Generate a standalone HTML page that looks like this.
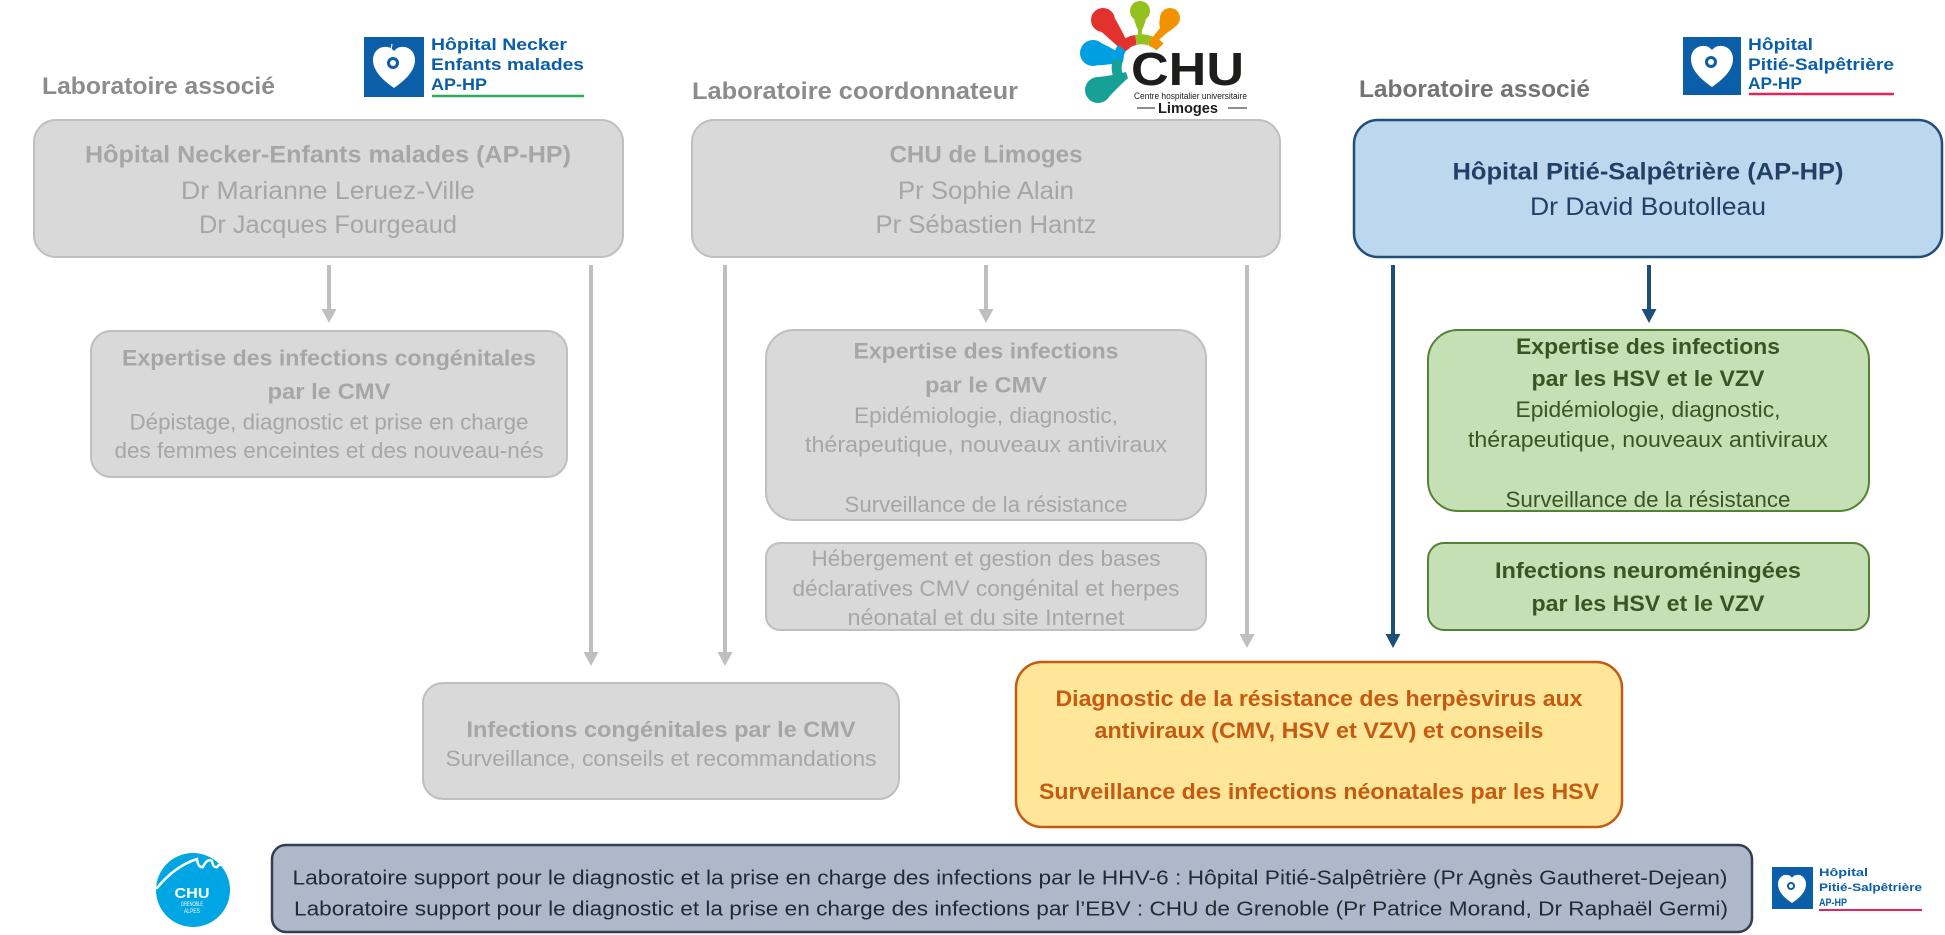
<!DOCTYPE html>
<html><head><meta charset="utf-8">
<style>
html,body{margin:0;padding:0;background:#fff;}
svg{display:block;}
text{font-family:"Liberation Sans",sans-serif;}
.b{font-weight:bold;}
.g{fill:#a6a6a6;}
</style></head>
<body>
<svg width="1945" height="935" viewBox="0 0 1945 935" xmlns="http://www.w3.org/2000/svg">
<rect width="1945" height="935" fill="#fff"/>

<!-- Headers -->
<text x="42" y="94" class="b" font-size="24" fill="#8c8c8c" textLength="233" lengthAdjust="spacingAndGlyphs">Laboratoire associé</text>
<text x="692" y="99" class="b" font-size="24" fill="#8c8c8c" textLength="326" lengthAdjust="spacingAndGlyphs">Laboratoire coordonnateur</text>
<text x="1359" y="97" class="b" font-size="24" fill="#747474" textLength="231" lengthAdjust="spacingAndGlyphs">Laboratoire associé</text>

<!-- Necker logo -->
<rect x="364" y="37" width="60" height="60" fill="#0b5ea8"/>
<path d="M394,88 C381,79 373,70 373,60 C373,51 380,46 387,47 C390,47 392,49 394,51 C396,49 398,47 401,47 C408,46 415,51 415,60 C415,70 407,79 394,88 Z" fill="#fff"/>
<circle cx="393" cy="63" r="6" fill="#0b5ea8"/>
<circle cx="393" cy="63" r="3" fill="#fff"/>
<line x1="392" y1="44" x2="390" y2="55" stroke="#fff" stroke-width="1.2"/>
<text x="431" y="50" class="b" font-size="17" fill="#0b5ea8" textLength="136" lengthAdjust="spacingAndGlyphs">Hôpital Necker</text>
<text x="431" y="70" class="b" font-size="17" fill="#0b5ea8" textLength="153" lengthAdjust="spacingAndGlyphs">Enfants malades</text>
<text x="431" y="90" class="b" font-size="17" fill="#0b5ea8" textLength="56" lengthAdjust="spacingAndGlyphs">AP-HP</text>
<line x1="432" y1="96" x2="584" y2="96" stroke="#2eab5a" stroke-width="2.5"/>

<!-- CHU Limoges logo -->
<g>
<path d="M1095,14 Q1103,5 1112,14 Q1120,26 1130,48 L1124,52 Q1104,34 1096,27 Q1089,20 1095,14 Z" fill="#e3312d"/>
<circle cx="1103" cy="20" r="12" fill="#e3312d"/>
<path d="M1134,8 Q1140,0 1146,8 Q1148,18 1142,30 L1141,42 L1138,42 L1138,30 Q1132,18 1134,8 Z" fill="#95c11f"/>
<circle cx="1140" cy="11" r="10" fill="#95c11f"/>
<path d="M1162,14 Q1170,6 1178,14 Q1182,24 1168,32 L1152,46 L1148,43 L1160,28 Q1158,20 1162,14 Z" fill="#f39200"/>
<circle cx="1170" cy="18" r="10" fill="#f39200"/>
<path d="M1082,50 Q1084,40 1095,41 Q1106,44 1124,56 L1123,62 Q1104,66 1094,65 Q1082,62 1082,50 Z" fill="#009fe3"/>
<circle cx="1093" cy="53" r="13" fill="#009fe3"/>
<path d="M1087,92 Q1086,80 1098,77 Q1110,76 1126,72 L1128,78 Q1115,90 1108,98 Q1098,106 1090,100 Z" fill="#16a096"/>
<circle cx="1098" cy="90" r="13" fill="#16a096"/>
<path d="M1122,82 A22,22 0 0 1 1118,60" fill="none" stroke="#16a096" stroke-width="10"/>
<path d="M1118,60 A22,22 0 0 1 1122,48" fill="none" stroke="#009fe3" stroke-width="10"/>
<path d="M1122,48 A22,22 0 0 1 1136,40" fill="none" stroke="#e3312d" stroke-width="10"/>
<path d="M1136,40 A22,22 0 0 1 1150,41" fill="none" stroke="#95c11f" stroke-width="10"/>
<path d="M1150,41 A22,22 0 0 1 1160,47" fill="none" stroke="#f39200" stroke-width="10"/>
<text x="1131" y="85" class="b" font-size="46" fill="#1d1d1b" textLength="113" lengthAdjust="spacingAndGlyphs">CHU</text>
<text x="1134" y="99" font-size="9" fill="#1d1d1b" textLength="113" lengthAdjust="spacingAndGlyphs">Centre hospitalier universitaire</text>
<text x="1158" y="113" class="b" font-size="15" fill="#1d1d1b" textLength="60" lengthAdjust="spacingAndGlyphs">Limoges</text>
<line x1="1137" y1="108" x2="1155" y2="108" stroke="#1d1d1b" stroke-width="1"/>
<line x1="1228" y1="108" x2="1247" y2="108" stroke="#1d1d1b" stroke-width="1"/>
</g>

<!-- Pitié logo top -->
<rect x="1683" y="37" width="58" height="58" fill="#0b5ea8"/>
<path d="M1712,87 C1699,78 1691,69 1691,59 C1691,50 1698,45 1705,46 C1708,46 1710,48 1712,50 C1714,48 1716,46 1719,46 C1726,45 1733,50 1733,59 C1733,69 1725,78 1712,87 Z" fill="#fff"/>
<circle cx="1711" cy="62" r="6" fill="#0b5ea8"/>
<circle cx="1711" cy="62" r="3" fill="#fff"/>
<text x="1748" y="50" class="b" font-size="17" fill="#0b5ea8" textLength="65" lengthAdjust="spacingAndGlyphs">Hôpital</text>
<text x="1748" y="70" class="b" font-size="17" fill="#0b5ea8" textLength="146" lengthAdjust="spacingAndGlyphs">Pitié-Salpêtrière</text>
<text x="1748" y="89" class="b" font-size="17" fill="#0b5ea8" textLength="54" lengthAdjust="spacingAndGlyphs">AP-HP</text>
<line x1="1749" y1="94" x2="1894" y2="94" stroke="#e2265b" stroke-width="2.5"/>

<!-- Top boxes -->
<rect x="34" y="120" width="589" height="137" rx="22" fill="#d9d9d9" stroke="#bfbfbf" stroke-width="2"/>
<text x="328" y="162.5" text-anchor="middle" class="b g" font-size="24" textLength="486" lengthAdjust="spacingAndGlyphs">Hôpital Necker-Enfants malades (AP-HP)</text>
<text x="328" y="199" text-anchor="middle" class="g" font-size="25" textLength="294" lengthAdjust="spacingAndGlyphs">Dr Marianne Leruez-Ville</text>
<text x="328" y="233" text-anchor="middle" class="g" font-size="25" textLength="258" lengthAdjust="spacingAndGlyphs">Dr Jacques Fourgeaud</text>

<rect x="692" y="120" width="588" height="137" rx="22" fill="#d9d9d9" stroke="#bfbfbf" stroke-width="2"/>
<text x="986" y="162.5" text-anchor="middle" class="b g" font-size="24" textLength="193" lengthAdjust="spacingAndGlyphs">CHU de Limoges</text>
<text x="986" y="199" text-anchor="middle" class="g" font-size="25" textLength="176" lengthAdjust="spacingAndGlyphs">Pr Sophie Alain</text>
<text x="986" y="233" text-anchor="middle" class="g" font-size="25" textLength="221" lengthAdjust="spacingAndGlyphs">Pr Sébastien Hantz</text>

<rect x="1354" y="120" width="588" height="137" rx="24" fill="#bdd7ee" stroke="#1f4e79" stroke-width="2.5"/>
<text x="1648" y="179.5" text-anchor="middle" class="b" font-size="24" fill="#223f66" textLength="391" lengthAdjust="spacingAndGlyphs">Hôpital Pitié-Salpêtrière (AP-HP)</text>
<text x="1648" y="215" text-anchor="middle" font-size="25" fill="#223f66" textLength="236" lengthAdjust="spacingAndGlyphs">Dr David Boutolleau</text>

<!-- Arrows gray -->
<g stroke="#bfbfbf" stroke-width="4">
<line x1="329" y1="265" x2="329" y2="311"/>
<line x1="986" y1="265" x2="986" y2="311"/>
<line x1="591" y1="265" x2="591" y2="654"/>
<line x1="725" y1="265" x2="725" y2="654"/>
<line x1="1247" y1="265" x2="1247" y2="636"/>
</g>
<g fill="#bfbfbf">
<polygon points="321.5,309 336.5,309 329,323"/>
<polygon points="978.5,309 993.5,309 986,323"/>
<polygon points="583.5,652 598.5,652 591,666"/>
<polygon points="717.5,652 732.5,652 725,666"/>
<polygon points="1239.5,634 1254.5,634 1247,648"/>
</g>
<!-- Arrows blue -->
<g stroke="#1f4e79" stroke-width="4">
<line x1="1393" y1="265" x2="1393" y2="636"/>
<line x1="1649" y1="265" x2="1649" y2="311"/>
</g>
<g fill="#1f4e79">
<polygon points="1385.5,634 1400.5,634 1393,648"/>
<polygon points="1641.5,309 1656.5,309 1649,323"/>
</g>

<!-- Expertise congenital CMV -->
<rect x="91" y="331" width="476" height="146" rx="20" fill="#d9d9d9" stroke="#bfbfbf" stroke-width="2"/>
<text x="329" y="365.5" text-anchor="middle" class="b g" font-size="22.5" textLength="414" lengthAdjust="spacingAndGlyphs">Expertise des infections congénitales</text>
<text x="329" y="399" text-anchor="middle" class="b g" font-size="22.5" textLength="123" lengthAdjust="spacingAndGlyphs">par le CMV</text>
<text x="329" y="429.5" text-anchor="middle" class="g" font-size="22" textLength="399" lengthAdjust="spacingAndGlyphs">Dépistage, diagnostic et prise en charge</text>
<text x="329" y="458" text-anchor="middle" class="g" font-size="22" textLength="429" lengthAdjust="spacingAndGlyphs">des femmes enceintes et des nouveau-nés</text>

<!-- Middle expertise -->
<rect x="766" y="330" width="440" height="190" rx="28" fill="#d9d9d9" stroke="#bfbfbf" stroke-width="2"/>
<text x="986" y="358.5" text-anchor="middle" class="b g" font-size="22.5" textLength="265" lengthAdjust="spacingAndGlyphs">Expertise des infections</text>
<text x="986" y="392.5" text-anchor="middle" class="b g" font-size="22.5" textLength="122" lengthAdjust="spacingAndGlyphs">par le CMV</text>
<text x="986" y="423" text-anchor="middle" class="g" font-size="22" textLength="264" lengthAdjust="spacingAndGlyphs">Epidémiologie, diagnostic,</text>
<text x="986" y="452" text-anchor="middle" class="g" font-size="22" textLength="362" lengthAdjust="spacingAndGlyphs">thérapeutique, nouveaux antiviraux</text>
<text x="986" y="512" text-anchor="middle" class="g" font-size="22" textLength="283" lengthAdjust="spacingAndGlyphs">Surveillance de la résistance</text>

<rect x="766" y="543" width="440" height="87" rx="14" fill="#d9d9d9" stroke="#bfbfbf" stroke-width="2"/>
<text x="986" y="566" text-anchor="middle" class="g" font-size="22" textLength="349" lengthAdjust="spacingAndGlyphs">Hébergement et gestion des bases</text>
<text x="986" y="596" text-anchor="middle" class="g" font-size="22" textLength="387" lengthAdjust="spacingAndGlyphs">déclaratives CMV congénital et herpes</text>
<text x="986" y="625" text-anchor="middle" class="g" font-size="22" textLength="277" lengthAdjust="spacingAndGlyphs">néonatal et du site Internet</text>

<!-- Green boxes -->
<rect x="1428" y="330" width="441" height="181" rx="30" fill="#c5e0b4" stroke="#548235" stroke-width="2"/>
<text x="1648" y="354" text-anchor="middle" class="b" font-size="22.5" fill="#375623" textLength="264" lengthAdjust="spacingAndGlyphs">Expertise des infections</text>
<text x="1648" y="386" text-anchor="middle" class="b" font-size="22.5" fill="#375623" textLength="233" lengthAdjust="spacingAndGlyphs">par les HSV et le VZV</text>
<text x="1648" y="417" text-anchor="middle" font-size="22" fill="#375623" textLength="265" lengthAdjust="spacingAndGlyphs">Epidémiologie, diagnostic,</text>
<text x="1648" y="447" text-anchor="middle" font-size="22" fill="#375623" textLength="360" lengthAdjust="spacingAndGlyphs">thérapeutique, nouveaux antiviraux</text>
<text x="1648" y="507" text-anchor="middle" font-size="22" fill="#375623" textLength="285" lengthAdjust="spacingAndGlyphs">Surveillance de la résistance</text>

<rect x="1428" y="543" width="441" height="87" rx="16" fill="#c5e0b4" stroke="#548235" stroke-width="2"/>
<text x="1648" y="578" text-anchor="middle" class="b" font-size="22.5" fill="#375623" textLength="306" lengthAdjust="spacingAndGlyphs">Infections neuroméningées</text>
<text x="1648" y="611" text-anchor="middle" class="b" font-size="22.5" fill="#375623" textLength="233" lengthAdjust="spacingAndGlyphs">par les HSV et le VZV</text>

<!-- Infections congénitales -->
<rect x="423" y="683" width="476" height="116" rx="20" fill="#d9d9d9" stroke="#bfbfbf" stroke-width="2"/>
<text x="661" y="737" text-anchor="middle" class="b g" font-size="22.5" textLength="389" lengthAdjust="spacingAndGlyphs">Infections congénitales par le CMV</text>
<text x="661" y="766" text-anchor="middle" class="g" font-size="22" textLength="431" lengthAdjust="spacingAndGlyphs">Surveillance, conseils et recommandations</text>

<!-- Orange box -->
<rect x="1016" y="662" width="606" height="165" rx="26" fill="#ffe699" stroke="#c55a11" stroke-width="2.5"/>
<text x="1319" y="706" text-anchor="middle" class="b" font-size="22.5" fill="#c55a11" textLength="527" lengthAdjust="spacingAndGlyphs">Diagnostic de la résistance des herpèsvirus aux</text>
<text x="1319" y="738" text-anchor="middle" class="b" font-size="22.5" fill="#c55a11" textLength="449" lengthAdjust="spacingAndGlyphs">antiviraux (CMV, HSV et VZV) et conseils</text>
<text x="1319" y="799" text-anchor="middle" class="b" font-size="22.5" fill="#c55a11" textLength="560" lengthAdjust="spacingAndGlyphs">Surveillance des infections néonatales par les HSV</text>

<!-- Grenoble logo -->
<circle cx="193" cy="890" r="37" fill="#00a5e3"/>
<path d="M157,888 Q175,866 197,859 Q198,868 203,867 Q207,858 212,861 Q213,868 217,867 Q221,862 227,864" fill="none" stroke="#fff" stroke-width="2.5" stroke-linecap="round"/>
<text x="192" y="898" text-anchor="middle" class="b" font-size="15" fill="#fff" textLength="35" lengthAdjust="spacingAndGlyphs">CHU</text>
<text x="192" y="906" text-anchor="middle" font-size="6" fill="#fff" textLength="22" lengthAdjust="spacingAndGlyphs">GRENOBLE</text>
<text x="192" y="913" text-anchor="middle" font-size="6" fill="#fff" textLength="16" lengthAdjust="spacingAndGlyphs">ALPES</text>

<!-- Bottom box -->
<rect x="272" y="845" width="1480" height="87" rx="14" fill="#adb9ca" stroke="#333f50" stroke-width="2.5"/>
<text x="1010" y="884.5" text-anchor="middle" font-size="20.5" fill="#222a35" textLength="1435" lengthAdjust="spacingAndGlyphs">Laboratoire support pour le diagnostic et la prise en charge des infections par le HHV-6 : Hôpital Pitié-Salpêtrière (Pr Agnès Gautheret-Dejean)</text>
<text x="1011" y="915.5" text-anchor="middle" font-size="20.5" fill="#222a35" textLength="1434" lengthAdjust="spacingAndGlyphs">Laboratoire support pour le diagnostic et la prise en charge des infections par l’EBV : CHU de Grenoble (Pr Patrice Morand, Dr Raphaël Germi)</text>

<!-- Pitié logo bottom -->
<rect x="1772" y="867" width="41" height="42" fill="#0b5ea8"/>
<path d="M1792,903 C1783,897 1778,891 1778,884 C1778,878 1783,874 1787,875 C1789,875 1791,876 1792,878 C1793,876 1795,875 1797,875 C1801,874 1806,878 1806,884 C1806,891 1801,897 1792,903 Z" fill="#fff"/>
<circle cx="1791" cy="886" r="4" fill="#0b5ea8"/>
<circle cx="1791" cy="886" r="2" fill="#fff"/>
<text x="1819" y="876" class="b" font-size="11" fill="#0b5ea8" textLength="49" lengthAdjust="spacingAndGlyphs">Hôpital</text>
<text x="1819" y="891" class="b" font-size="11" fill="#0b5ea8" textLength="103" lengthAdjust="spacingAndGlyphs">Pitié-Salpêtrière</text>
<text x="1819" y="906" class="b" font-size="11" fill="#0b5ea8" textLength="28" lengthAdjust="spacingAndGlyphs">AP-HP</text>
<line x1="1819" y1="910" x2="1922" y2="910" stroke="#e2265b" stroke-width="2"/>
</svg>
</body></html>
